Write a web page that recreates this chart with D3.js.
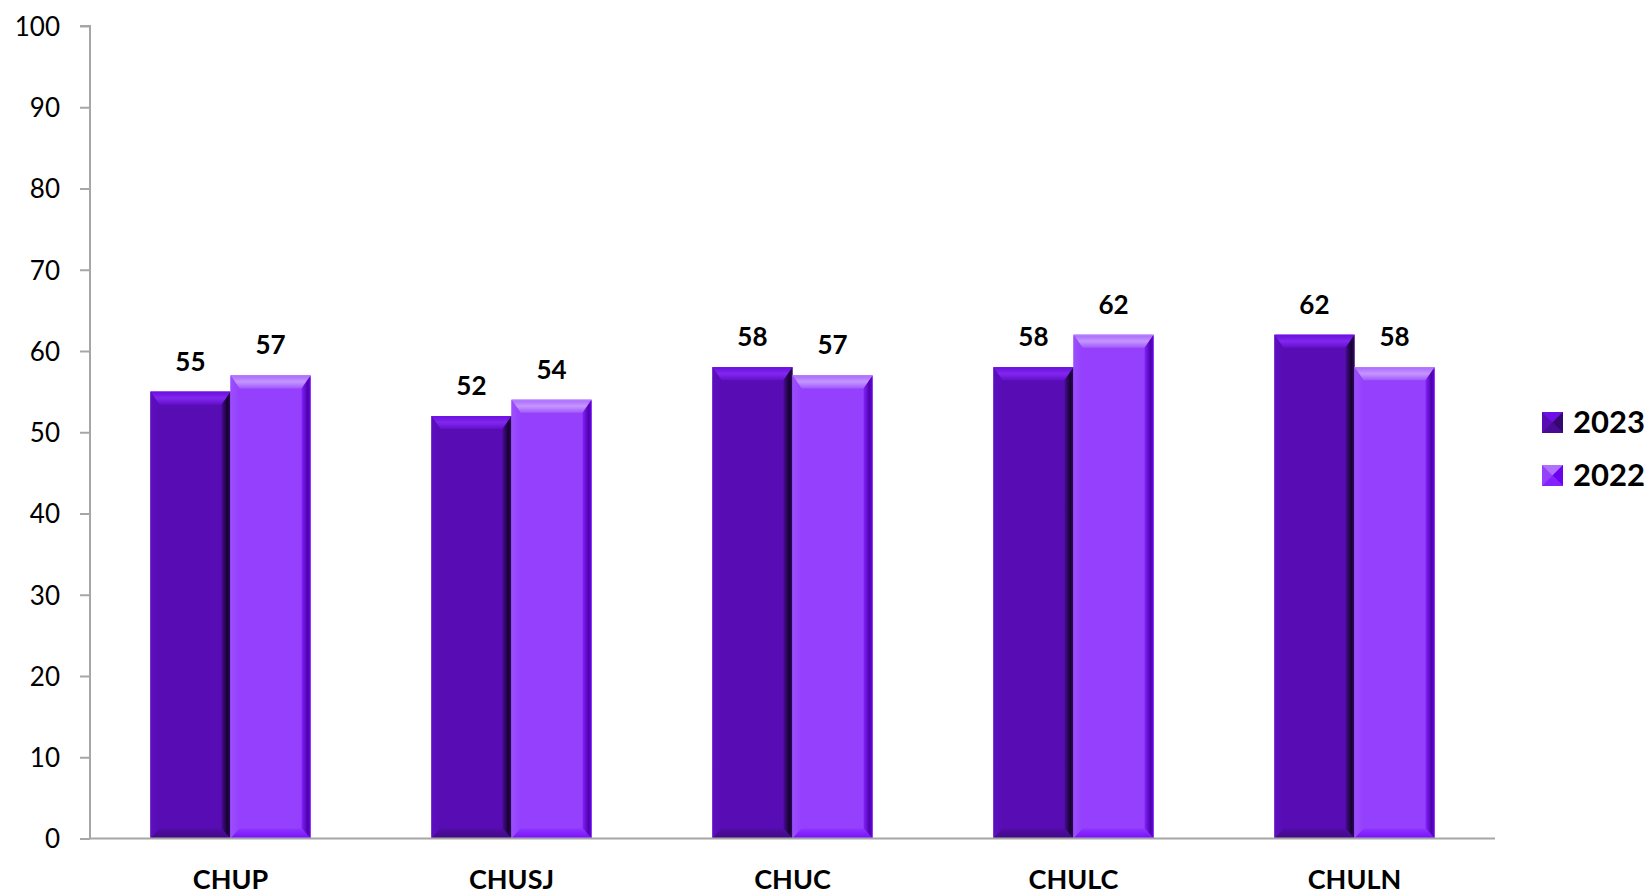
<!DOCTYPE html>
<html><head><meta charset="utf-8">
<script src="https://cdn.jsdelivr.net/npm/d3@7"></script>
<style>
html,body{margin:0;padding:0;background:#fff;}
svg{display:block;font-family:Lato,"Open Sans",sans-serif;}
</style></head>
<body>
<svg id="chart" width="1652" height="893"></svg>
<script>
const categories = ["CHUP","CHUSJ","CHUC","CHULC","CHULN"];
const seriesNames = ["2023","2022"];
const values2023 = [55,52,58,58,62];
const values2022 = [57,54,57,62,58];
const yTicks = [0,10,20,30,40,50,60,70,80,90,100];
const colors = {"2023":"#570db3","2022":"#9440fd"};

const svg = d3.select("#chart");
const W = 1652, H = 893;
const margin = {left:90, right:157, top:26, bottom:54.5};
const x0 = d3.scaleBand().domain(categories).range([margin.left, W - margin.right]).paddingInner(0.43).paddingOuter(0.215);
const x1 = d3.scaleBand().domain(seriesNames).range([0, x0.bandwidth()]);
const y = d3.scaleLinear().domain([0,100]).range([H - margin.bottom, margin.top]);

const defs = svg.append("defs");
function shade(c, k){ const h = d3.hsl(c); h.l = Math.max(0, Math.min(1, h.l + k)); return h.toString(); }
seriesNames.forEach(s=>{
  const c = colors[s];
  const gT = defs.append("linearGradient").attr("id","top"+s).attr("x1",0).attr("y1",0).attr("x2",0).attr("y2",1);
  gT.append("stop").attr("offset",0).attr("stop-color",shade(c,0.08));
  gT.append("stop").attr("offset",0.5).attr("stop-color",shade(c,0.17));
  gT.append("stop").attr("offset",1).attr("stop-color",shade(c,0.05));
  const gR = defs.append("linearGradient").attr("id","right"+s).attr("x1",0).attr("y1",0).attr("x2",1).attr("y2",0);
  gR.append("stop").attr("offset",0).attr("stop-color",shade(c,-0.06));
  gR.append("stop").attr("offset",0.65).attr("stop-color",shade(c,-0.28));
  gR.append("stop").attr("offset",1).attr("stop-color",shade(c,-0.16));
  const gL = defs.append("linearGradient").attr("id","left"+s).attr("x1",0).attr("y1",0).attr("x2",1).attr("y2",0);
  gL.append("stop").attr("offset",0).attr("stop-color",shade(c,0.03));
  gL.append("stop").attr("offset",1).attr("stop-color",shade(c,0.0));
  const gB = defs.append("linearGradient").attr("id","bot"+s).attr("x1",0).attr("y1",0).attr("x2",0).attr("y2",1);
  gB.append("stop").attr("offset",0).attr("stop-color",shade(c,-0.02));
  gB.append("stop").attr("offset",1).attr("stop-color",shade(c,-0.1));
});

// axes
const yAxis = d3.axisLeft(y).tickValues(yTicks).tickSize(10).tickPadding(20);
const gy = svg.append("g").attr("transform",`translate(${margin.left},0)`).call(yAxis);
gy.select(".domain").attr("stroke","#a6a6a6").attr("stroke-width",2).attr("d",`M-10,${y(100)}H0V${y(0)}`);
gy.selectAll(".tick line").attr("stroke","#a6a6a6").attr("stroke-width",2);
gy.selectAll(".tick text").attr("font-size",26).attr("fill","#000").attr("font-family","Lato, sans-serif").attr("dy","0.36em");

const data = categories.map((c,i)=>({cat:c, vals:[{s:"2023",v:values2023[i]},{s:"2022",v:values2022[i]}]}));

const bars = svg.append("g");
const grp = bars.selectAll("g.cat").data(data).join("g").attr("transform",d=>`translate(${x0(d.cat)},0)`);
const bar = grp.selectAll("g.bar").data(d=>d.vals).join("g");
bar.each(function(d){
  const g = d3.select(this);
  const xl = x1(d.s), w = x1.bandwidth(), xr = xl + w;
  const yt = y(d.v), yb = y(0);
  const bt = 13, bs = 9, bb = 10;
  g.append("rect").attr("x",xl).attr("y",yt).attr("width",w).attr("height",yb-yt).attr("fill",colors[d.s]);
  g.append("polygon").attr("points",[[xl,yt],[xr,yt],[xr-bs,yt+bt],[xl+bs,yt+bt]].join(" ")).attr("fill",`url(#top${d.s})`);
  g.append("polygon").attr("points",[[xr,yt],[xr,yb],[xr-bs,yb-bb],[xr-bs,yt+bt]].join(" ")).attr("fill",`url(#right${d.s})`);
  g.append("polygon").attr("points",[[xl,yt],[xl+bs,yt+bt],[xl+bs,yb-bb],[xl,yb]].join(" ")).attr("fill",`url(#left${d.s})`);
  g.append("polygon").attr("points",[[xl,yb],[xl+bs,yb-bb],[xr-bs,yb-bb],[xr,yb]].join(" ")).attr("fill",`url(#bot${d.s})`);
  g.append("line").attr("x1",xl).attr("x2",xr).attr("y1",yt+0.5).attr("y2",yt+0.5).attr("stroke",shade(colors[d.s],0.12)).attr("stroke-width",1);
  g.append("text").attr("x",xl+w/2).attr("y",yt-21).attr("text-anchor","middle")
    .attr("font-size",26).attr("font-weight","bold").attr("fill","#000").text(d.v);
});

// x axis line
svg.append("line").attr("x1",margin.left).attr("x2",W-margin.right).attr("y1",y(0)).attr("y2",y(0)).attr("stroke","#a6a6a6").attr("stroke-width",2);
const xAxis = d3.axisBottom(x0).tickSize(0).tickPadding(0);
const gx = svg.append("g").attr("transform",`translate(0,${y(0)})`).call(xAxis);
gx.select(".domain").remove();
gx.selectAll(".tick text").attr("font-size",27).attr("font-weight","bold").attr("fill","#000")
  .attr("font-family","Lato, sans-serif").attr("dy",0).attr("y",50);

// legend
const lg = svg.append("g").attr("transform","translate(1542,412)");
const li = lg.selectAll("g").data(seriesNames).join("g").attr("transform",(d,i)=>`translate(0,${i*53})`);
li.each(function(s){
  const g = d3.select(this), sz = 21;
  g.append("rect").attr("width",sz).attr("height",sz).attr("fill",colors[s]);
  g.append("polygon").attr("points",[[0,0],[sz,0],[sz/2,sz/2]].join(" ")).attr("fill",shade(colors[s],0.1));
  g.append("polygon").attr("points",[[sz,0],[sz,sz],[sz/2,sz/2]].join(" ")).attr("fill",shade(colors[s],-0.15));
  g.append("polygon").attr("points",[[0,sz],[sz,sz],[sz/2,sz/2]].join(" ")).attr("fill",shade(colors[s],-0.06));
  g.append("text").attr("x",31).attr("y",sz).attr("font-size",31).attr("font-weight","bold").attr("fill","#000").text(s);
});
</script>
</body></html>
